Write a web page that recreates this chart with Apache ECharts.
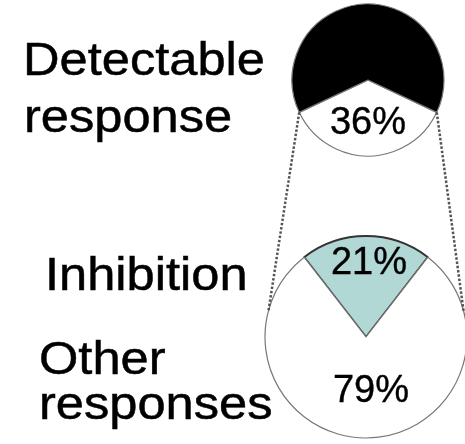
<!DOCTYPE html>
<html>
<head>
<meta charset="utf-8">
<script src="https://cdn.jsdelivr.net/npm/echarts@6/dist/echarts.min.js"></script>
<style>
html,body{margin:0;padding:0;background:#fff;}
#main{width:465px;height:444px;}
</style>
</head>
<body>
<div id="main"></div>
<script>
// Top pie: overall responses
const topNames = ['Detectable response', 'No response'];
const topValues = [36, 64];
const topColors = ['#ffffff', '#000000'];
// Bottom pie: breakdown of detectable responses
const bottomNames = ['Inhibition', 'Other responses'];
const bottomValues = [21, 79];
const bottomColors = ['#b2d8d6', '#ffffff'];
// Side labels
const topLabelLines = ['Detectable', 'response'];
const bottomLabelLines = ['Inhibition', 'Other', 'responses'];

const chart = echarts.init(document.getElementById('main'), null, {renderer: 'canvas'});

const FONT = '"Liberation Sans", Arial, Helvetica, sans-serif';
const topCenter = [368, 80], topR = 76;
const botCenter = [366, 337], botR = 101;

// start angles so that the highlighted slice is centered (bottom for top pie, top for bottom pie)
const topSum = topValues.reduce((a, b) => a + b, 0);
const topSpan = topValues[0] / topSum * 360;
const topStart = -90 + topSpan / 2;
const botSum = bottomValues.reduce((a, b) => a + b, 0);
const botSpan = bottomValues[0] / botSum * 360;
const botStart = 90 + botSpan / 2;

// connector endpoints derived from slice geometry
function pt(c, r, deg) {
  const a = deg * Math.PI / 180;
  return [c[0] + r * Math.cos(a), c[1] - r * Math.sin(a)];
}
const tA = pt(topCenter, topR, topStart);
const tB = pt(topCenter, topR, topStart - topSpan);
const bA = pt(botCenter, botR, 15);
const bB = pt(botCenter, botR, 165);

function sideText(txt, x, baseline) {
  return {
    type: 'text', x: x, y: baseline - 16, scaleX: 1.1, scaleY: 1,
    style: {text: txt, font: '46px ' + FONT, fill: '#000', stroke: '#000', lineWidth: 0.5,
            align: 'left', verticalAlign: 'middle'},
    z: 10
  };
}

chart.setOption({
  animation: false,
  backgroundColor: '#fff',
  series: [
    {
      type: 'pie', center: topCenter, radius: topR, startAngle: topStart, clockwise: true,
      silent: true,
      itemStyle: {borderColor: '#777', borderWidth: 1.2},
      label: {
        position: 'inside', fontFamily: FONT, fontSize: 38, color: '#000',
        textBorderColor: '#000', textBorderWidth: 0.4,
        formatter: p => p.dataIndex === 0 ? p.value + '%' : ''
      },
      labelLayout: {dy: 3},
      labelLine: {show: false},
      data: topNames.map((n, i) => ({name: n, value: topValues[i], itemStyle: {color: topColors[i]}}))
    },
    {
      type: 'pie', center: botCenter, radius: botR, startAngle: botStart, clockwise: true,
      silent: true,
      itemStyle: {borderColor: '#777', borderWidth: 1.2},
      label: {
        position: 'inside', fontFamily: FONT, fontSize: 38, color: '#000',
        textBorderColor: '#000', textBorderWidth: 0.4,
        formatter: p => p.value + '%'
      },
      labelLayout: p => ({dy: p.dataIndex === 0 ? -20 : 1, dx: p.dataIndex === 0 ? 3 : 5}),
      labelLine: {show: false},
      data: bottomNames.map((n, i) => ({
        name: n, value: bottomValues[i],
        itemStyle: i === 0 ? {color: bottomColors[i], borderColor: '#333', borderWidth: 2} : {color: bottomColors[i]}
      }))
    }
  ],
  graphic: [
    {type: 'line', shape: {x1: tA[0], y1: tA[1], x2: bA[0], y2: bA[1]},
     style: {stroke: '#555', lineWidth: 2.5, lineDash: [2.5, 1.8]}, z: 5},
    {type: 'line', shape: {x1: tB[0], y1: tB[1], x2: bB[0], y2: bB[1]},
     style: {stroke: '#555', lineWidth: 2.5, lineDash: [2.5, 1.8]}, z: 5},
    sideText(topLabelLines[0], 23, 78),
    sideText(topLabelLines[1], 24, 135),
    sideText(bottomLabelLines[0], 45, 293),
    sideText(bottomLabelLines[1], 39, 377),
    sideText(bottomLabelLines[2], 39, 422)
  ]
});
</script>
</body>
</html>
